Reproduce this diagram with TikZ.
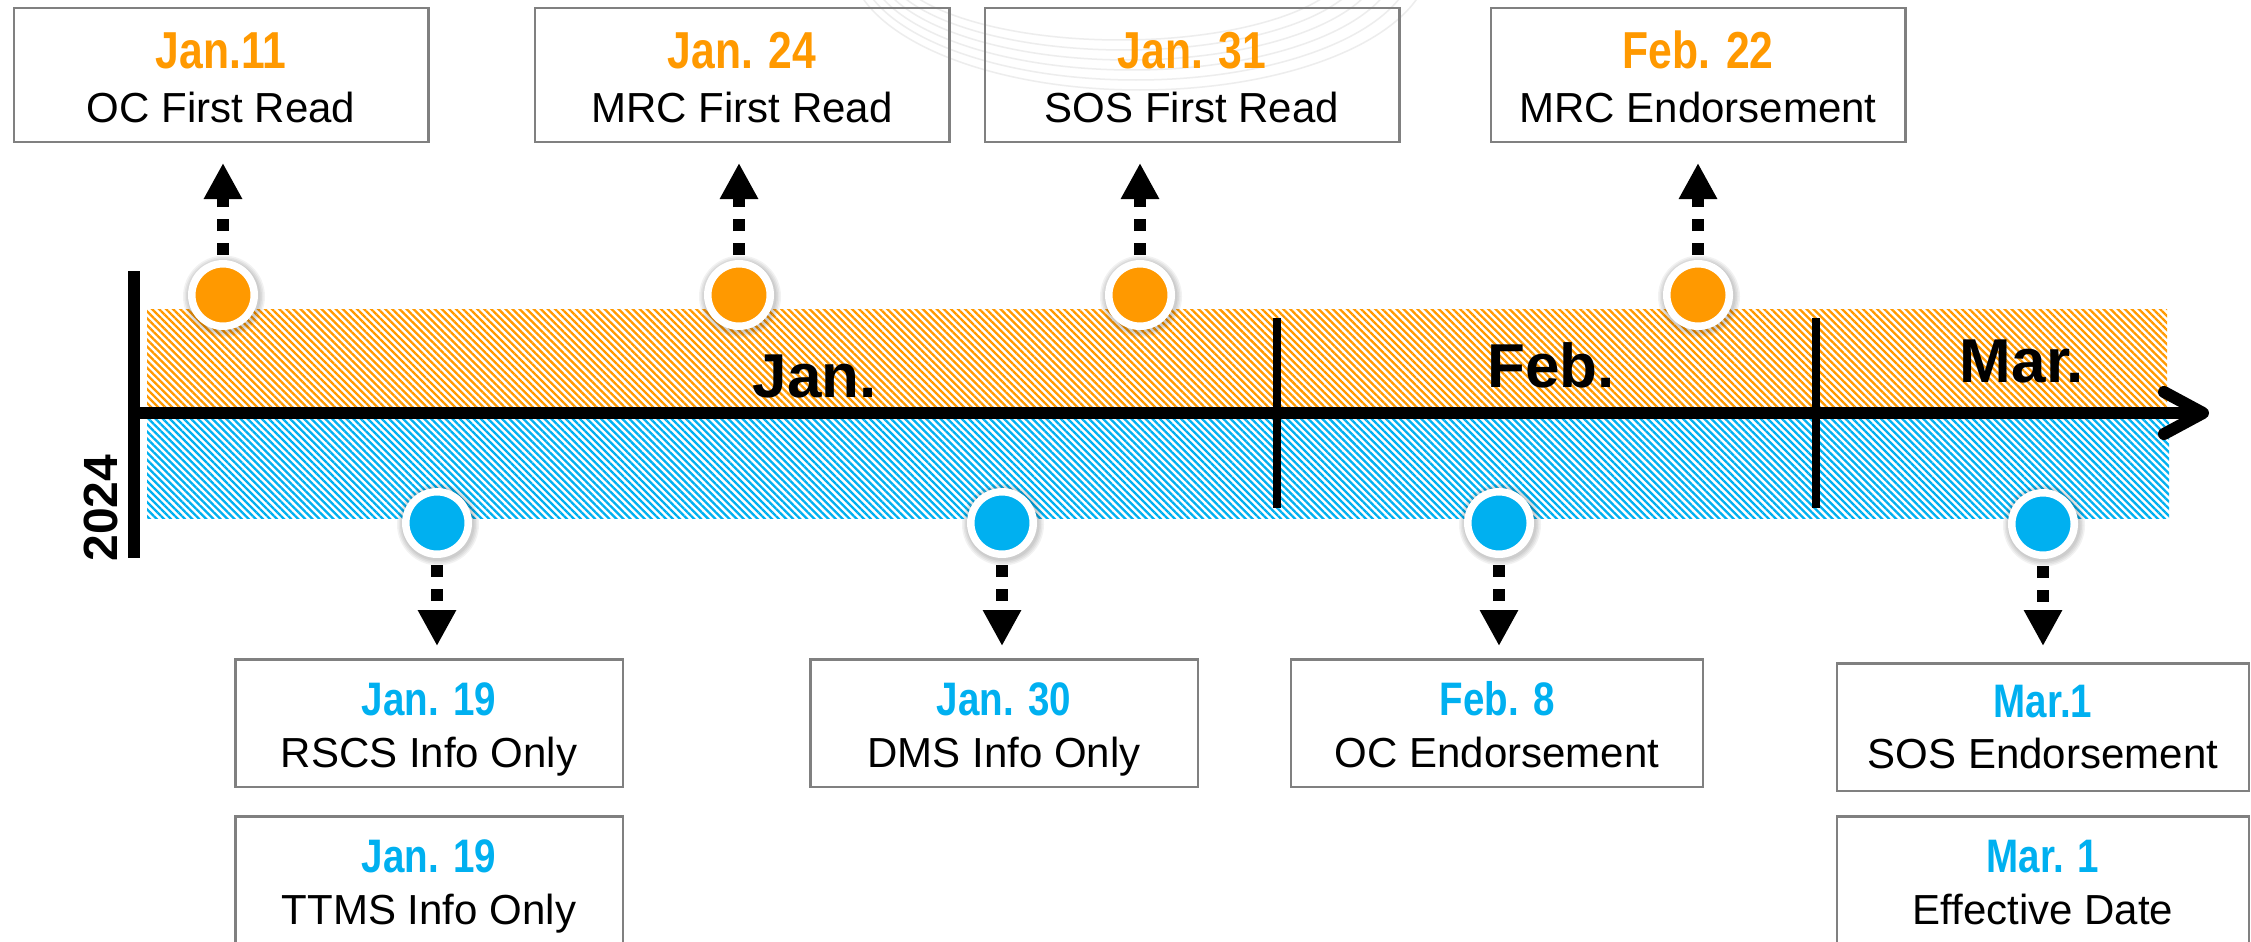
\documentclass[tikz,border=0pt]{standalone}
\usepackage{fontspec}
\setmainfont{Liberation Sans}
\newfontfamily\datefont{Liberation Sans}[FakeStretch=0.82]
\usetikzlibrary{arrows.meta,patterns.meta}
\definecolor{tlorange}{RGB}{255,153,0}
\definecolor{tlblue}{RGB}{0,176,240}
\definecolor{boxgray}{RGB}{128,128,128}
\begin{document}
\begin{tikzpicture}[x=1pt,y=-1pt,
  topbox/.style={draw=boxgray, line width=2.5pt, minimum width=414.5pt, minimum height=133.5pt, inner sep=0pt, anchor=north},
  botbox/.style={draw=boxgray, line width=2.5pt, minimum width=#1, minimum height=127.5pt, inner sep=0pt, anchor=north},
  botbox/.default=387.5pt,
  datetop/.style={anchor=base, text=tlorange, font=\datefont\bfseries\fontsize{52}{52}\selectfont, inner sep=0pt},
  datebot/.style={anchor=base, text=tlblue, font=\datefont\bfseries\fontsize{47}{47}\selectfont, inner sep=0pt},
  bodytxt/.style={anchor=base, font=\fontsize{42}{42}\selectfont, inner sep=0pt},
  dot/.style={circle, draw=white, line width=7.5pt, minimum size=62.5pt, inner sep=0pt, fill=#1},
  evarrow/.style={line width=12pt, dash pattern=on 12pt off 12pt, -{Triangle[length=36pt,width=36pt]}},
  month/.style={anchor=base, font=\bfseries\fontsize{62}{62}\selectfont, inner sep=0pt},
  glow/.style={fill=black, opacity=0.05},
  hatch/.style={pattern={Lines[angle=-45,distance=5pt,line width=2.3pt]}, pattern color=#1}
]
\useasboundingbox (0,0) rectangle (2251,942);
\fill[white] (0,0) rectangle (2251,942);

% faint watermark arcs
\begin{scope}
\clip (0,0) rectangle (2251,942);
\foreach \i in {0,...,5}{
  \draw[black!7, line width=1.5pt] (1120+4*\i,-40) ellipse [x radius=230+12*\i, y radius=80+10*\i];
}
\end{scope}

% hatched bands
\fill[hatch=tlorange] (147,309) rectangle (2167,407);
\fill[hatch=tlblue] (147,419) rectangle (2169,518);

% axis
\draw[line width=12pt] (128,413) -- (2203,413);
\draw[line width=12pt, line cap=round, line join=round] (2164,392) -- (2203,413) -- (2164,434);
\draw[line width=12pt] (134,271) -- (134,558);
\draw[line width=8pt] (1277,318) -- (1277,508);
\draw[line width=8pt] (1816,318) -- (1816,508);

% month labels and year
\node[month] (mjan) at (815,397) {Jan.};
\node[month] (mfeb) at (1551,387) {Feb.};
\node[month] (mmar) at (2022,382) {Mar.};
\node[rotate=90, font=\bfseries\fontsize{48}{48}\selectfont, inner sep=0pt] (year) at (101,508) {2024};

% positions of dots
\coordinate (po1) at (223,295);
\coordinate (po2) at (739,295);
\coordinate (po3) at (1140,295);
\coordinate (po4) at (1698,295);
\coordinate (pb1) at (437,523);
\coordinate (pb2) at (1002,523);
\coordinate (pb3) at (1499,523);
\coordinate (pb4) at (2043,524);

\foreach \p in {po1,po2,po3,po4,pb1,pb2,pb3,pb4}{
  \fill[glow] ([shift={(1,1.5)}]\p) circle[radius=36.5];
  \fill[glow] ([shift={(1,1.5)}]\p) circle[radius=38];
  \fill[glow] ([shift={(1,1.5)}]\p) circle[radius=39.5];
  \fill[glow] ([shift={(1,1.5)}]\p) circle[radius=41];
}

\node[dot=tlorange] (o1) at (po1) {};
\node[dot=tlorange] (o2) at (po2) {};
\node[dot=tlorange] (o3) at (po3) {};
\node[dot=tlorange] (o4) at (po4) {};
\node[dot=tlblue] (c1) at (pb1) {};
\node[dot=tlblue] (c2) at (pb2) {};
\node[dot=tlblue] (c3) at (pb3) {};
\node[dot=tlblue] (c4) at (pb4) {};

% top boxes
\node[topbox] (t1) at (221,7) {};
\node[topbox] (t2) at (742,7) {};
\node[topbox] (t3) at (1192,7) {};
\node[topbox] (t4) at (1698,7) {};
\node[datetop] (t1d) at (221,68) {Jan.11};
\node[bodytxt] (t1t) at (221,122) {OC First Read};
\node[datetop] (t2d) at (742,68) {Jan. 24};
\node[bodytxt] (t2t) at (742,122) {MRC First Read};
\node[datetop] (t3d) at (1192,68) {Jan. 31};
\node[bodytxt] (t3t) at (1192,122) {SOS First Read};
\node[datetop] (t4d) at (1698,68) {Feb. 22};
\node[bodytxt] (t4t) at (1698,122) {MRC Endorsement};

% bottom boxes
\node[botbox] (u1) at (429,658) {};
\node[botbox] (u1b) at (429,815) {};
\node[botbox] (u2) at (1004,658) {};
\node[botbox=412pt] (u3) at (1497,658) {};
\node[botbox=412pt] (u4) at (2043,662) {};
\node[botbox=412pt] (u4b) at (2043,815) {};
\node[datebot] (u1d) at (429,715) {Jan. 19};
\node[bodytxt] (u1t) at (429,767) {RSCS Info Only};
\node[datebot] (u1bd) at (429,872) {Jan. 19};
\node[bodytxt] (u1bt) at (429,924) {TTMS Info Only};
\node[datebot] (u2d) at (1004,715) {Jan. 30};
\node[bodytxt] (u2t) at (1004,767) {DMS Info Only};
\node[datebot] (u3d) at (1497,715) {Feb. 8};
\node[bodytxt] (u3t) at (1497,767) {OC Endorsement};
\node[datebot] (u4d) at (2043,717) {Mar.1};
\node[bodytxt] (u4t) at (2043,768) {SOS Endorsement};
\node[datebot] (u4bd) at (2043,872) {Mar. 1};
\node[bodytxt] (u4bt) at (2043,924) {Effective Date};

% arrows
\draw[evarrow, shorten <=5pt, shorten >=20pt] (o1.north) -- (o1.north |- t1.south);
\draw[evarrow, shorten <=5pt, shorten >=20pt] (o2.north) -- (o2.north |- t2.south);
\draw[evarrow, shorten <=5pt, shorten >=20pt] (o3.north) -- (o3.north |- t3.south);
\draw[evarrow, shorten <=5pt, shorten >=20pt] (o4.north) -- (o4.north |- t4.south);
\draw[evarrow, shorten <=7pt, shorten >=12pt] (c1.south) -- (c1.south |- u1.north);
\draw[evarrow, shorten <=7pt, shorten >=12pt] (c2.south) -- (c2.south |- u2.north);
\draw[evarrow, shorten <=7pt, shorten >=12pt] (c3.south) -- (c3.south |- u3.north);
\draw[evarrow, shorten <=7pt, shorten >=16pt] (c4.south) -- (c4.south |- u4.north);
\end{tikzpicture}
\end{document}
